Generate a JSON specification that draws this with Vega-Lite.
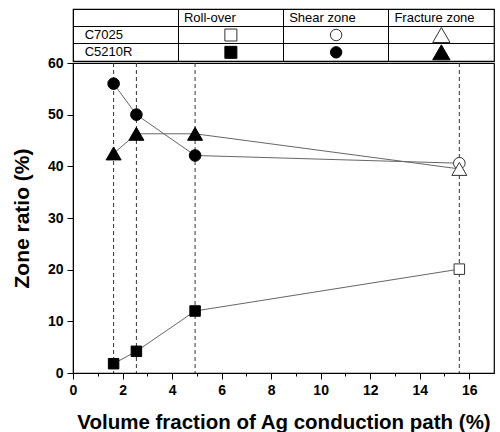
{
  "$schema": "https://vega.github.io/schema/vega-lite/v6.json",
  "padding": {"left": 10, "top": 8, "right": 5, "bottom": 0},
  "spacing": 2,
  "bounds": "flush",
  "config": {
    "font": "Liberation Sans",
    "view": {"stroke": "black", "strokeWidth": 1.2}
  },
  "datasets": {
    "pts": [
      {"x": 1.64, "zone": "Roll-over", "alloy": "C5210R", "v": 1.8},
      {"x": 2.56, "zone": "Roll-over", "alloy": "C5210R", "v": 4.2},
      {"x": 4.93, "zone": "Roll-over", "alloy": "C5210R", "v": 12.0},
      {"x": 15.6, "zone": "Roll-over", "alloy": "C7025", "v": 20.1},
      {"x": 1.64, "zone": "Shear zone", "alloy": "C5210R", "v": 56.0},
      {"x": 2.56, "zone": "Shear zone", "alloy": "C5210R", "v": 50.0},
      {"x": 4.93, "zone": "Shear zone", "alloy": "C5210R", "v": 42.1},
      {"x": 15.6, "zone": "Shear zone", "alloy": "C7025", "v": 40.6},
      {"x": 1.64, "zone": "Fracture zone", "alloy": "C5210R", "v": 42.5},
      {"x": 2.56, "zone": "Fracture zone", "alloy": "C5210R", "v": 46.3},
      {"x": 4.93, "zone": "Fracture zone", "alloy": "C5210R", "v": 46.3},
      {"x": 15.6, "zone": "Fracture zone", "alloy": "C7025", "v": 39.5}
    ],
    "vlines": [{"x": 1.64}, {"x": 2.56}, {"x": 4.93}, {"x": 15.6}],
    "tblHead": [
      {"row": "head", "col": "Roll-over", "label": "Roll-over"},
      {"row": "head", "col": "Shear zone", "label": "Shear zone"},
      {"row": "head", "col": "Fracture zone", "label": "Fracture zone"}
    ],
    "tblRows": [
      {"row": "C7025", "col": "name", "label": "C7025"},
      {"row": "C5210R", "col": "name", "label": "C5210R"}
    ],
    "tblSym": [
      {"row": "C7025", "col": "Roll-over", "alloy": "C7025", "zone": "Roll-over"},
      {"row": "C7025", "col": "Shear zone", "alloy": "C7025", "zone": "Shear zone"},
      {"row": "C7025", "col": "Fracture zone", "alloy": "C7025", "zone": "Fracture zone"},
      {"row": "C5210R", "col": "Roll-over", "alloy": "C5210R", "zone": "Roll-over"},
      {"row": "C5210R", "col": "Shear zone", "alloy": "C5210R", "zone": "Shear zone"},
      {"row": "C5210R", "col": "Fracture zone", "alloy": "C5210R", "zone": "Fracture zone"}
    ]
  },
  "vconcat": [
    {
      "width": 421,
      "height": 52,
      "encoding": {
        "x": {
          "field": "col", "type": "nominal",
          "scale": {"type": "band", "domain": ["name", "Roll-over", "Shear zone", "Fracture zone"], "paddingInner": 0, "paddingOuter": 0},
          "axis": {"title": null, "labels": false, "ticks": false, "domain": false, "grid": true, "bandPosition": 0, "gridColor": "black", "gridOpacity": 1, "gridWidth": 1, "minExtent": 0, "maxExtent": 0, "offset": 0}
        },
        "y": {
          "field": "row", "type": "nominal",
          "scale": {"type": "band", "domain": ["head", "C7025", "C5210R"], "paddingInner": 0, "paddingOuter": 0},
          "axis": {"title": null, "labels": false, "ticks": false, "domain": false, "grid": true, "bandPosition": 0, "gridColor": "black", "gridOpacity": 1, "gridWidth": 1, "minExtent": 0, "maxExtent": 0, "offset": 0}
        },
        "fill": {"field": "alloy", "type": "nominal", "scale": {"domain": ["C7025", "C5210R"], "range": ["white", "black"]}, "legend": null},
        "stroke": {"field": "alloy", "type": "nominal", "scale": {"domain": ["C7025", "C5210R"], "range": ["#333333", "black"]}, "legend": null}
      },
      "layer": [
        {
          "data": {"name": "tblHead"},
          "mark": {"type": "text", "align": "left", "baseline": "middle", "dx": -47, "fontSize": 13, "color": "black"},
          "encoding": {"text": {"field": "label"}, "fill": {"value": "black"}, "stroke": {"value": null}}
        },
        {
          "data": {"name": "tblRows"},
          "mark": {"type": "text", "align": "left", "baseline": "middle", "dx": -41, "fontSize": 13, "color": "black"},
          "encoding": {"text": {"field": "label"}, "fill": {"value": "black"}, "stroke": {"value": null}}
        },
        {
          "data": {"name": "tblSym"},
          "transform": [{"filter": "datum.zone === 'Roll-over'"}],
          "mark": {"type": "point", "shape": "square", "size": 144, "filled": true, "opacity": 1, "strokeWidth": 1}
        },
        {
          "data": {"name": "tblSym"},
          "transform": [{"filter": "datum.zone === 'Shear zone'"}],
          "mark": {"type": "point", "shape": "circle", "size": 130, "filled": true, "opacity": 1, "strokeWidth": 1}
        },
        {
          "data": {"name": "tblSym"},
          "transform": [{"filter": "datum.zone === 'Fracture zone'"}],
          "mark": {"type": "point", "shape": "triangle-up", "size": 300, "filled": true, "opacity": 1, "strokeWidth": 1}
        }
      ]
    },
    {
      "width": 421,
      "height": 310,
      "encoding": {
        "x": {
          "field": "x", "type": "quantitative",
          "scale": {"domain": [0, 17], "nice": false, "zero": false},
          "axis": {
            "values": [0, 1, 2, 3, 4, 5, 6, 7, 8, 9, 10, 11, 12, 13, 14, 15, 16],
            "labelExpr": "datum.value % 2 === 0 ? datum.label : ''",
            "tickSize": {"condition": {"test": "datum.value % 2 !== 0", "value": 3}, "value": 6},
            "title": "Volume fraction of Ag conduction path (%)",
            "titleFontSize": 20.5, "titleFontWeight": "bold", "titleColor": "black", "titlePadding": 15,
            "labelFontSize": 14, "labelFontWeight": "bold", "labelColor": "black", "labelPadding": 4, "labelFlush": false,
            "domainColor": "black", "tickColor": "black", "grid": false
          }
        }
      },
      "layer": [
        {
          "data": {"name": "vlines"},
          "mark": {"type": "rule", "strokeDash": [4, 3], "color": "#333333", "strokeWidth": 1}
        },
        {
          "data": {"name": "pts"},
          "mark": {"type": "line", "color": "#666666", "strokeWidth": 1},
          "encoding": {
            "y": {"field": "v", "type": "quantitative", "scale": {"domain": [0, 60], "nice": false},
              "axis": {
                "values": [0, 5, 10, 15, 20, 25, 30, 35, 40, 45, 50, 55, 60],
                "labelExpr": "datum.value % 10 === 0 ? datum.label : ''",
                "tickSize": {"condition": {"test": "datum.value % 10 !== 0", "value": 3}, "value": 6},
                "title": "Zone ratio (%)",
                "titleFontSize": 21, "titleFontWeight": "bold", "titleColor": "black", "titlePadding": 15,
                "labelFontSize": 14, "labelFontWeight": "bold", "labelColor": "black", "labelPadding": 4, "labelFlush": false,
                "domainColor": "black", "tickColor": "black", "grid": false
              }},
            "detail": {"field": "zone"}
          }
        },
        {
          "data": {"name": "pts"},
          "transform": [{"filter": "datum.zone === 'Roll-over'"}],
          "mark": {"type": "point", "shape": "square", "size": 110, "filled": true, "opacity": 1, "strokeWidth": 1},
          "encoding": {
            "y": {"field": "v", "type": "quantitative"},
            "fill": {"field": "alloy", "type": "nominal", "scale": {"domain": ["C7025", "C5210R"], "range": ["white", "black"]}, "legend": null},
            "stroke": {"field": "alloy", "type": "nominal", "scale": {"domain": ["C7025", "C5210R"], "range": ["#555555", "black"]}, "legend": null}
          }
        },
        {
          "data": {"name": "pts"},
          "transform": [{"filter": "datum.zone === 'Shear zone'"}],
          "mark": {"type": "point", "shape": "circle", "size": 135, "filled": true, "opacity": 1, "strokeWidth": 1},
          "encoding": {
            "y": {"field": "v", "type": "quantitative"},
            "fill": {"field": "alloy", "type": "nominal", "scale": {"domain": ["C7025", "C5210R"], "range": ["white", "black"]}, "legend": null},
            "stroke": {"field": "alloy", "type": "nominal", "scale": {"domain": ["C7025", "C5210R"], "range": ["#555555", "black"]}, "legend": null}
          }
        },
        {
          "data": {"name": "pts"},
          "transform": [{"filter": "datum.zone === 'Fracture zone'"}],
          "mark": {"type": "point", "shape": "triangle-up", "size": 225, "filled": true, "opacity": 1, "strokeWidth": 1},
          "encoding": {
            "y": {"field": "v", "type": "quantitative"},
            "fill": {"field": "alloy", "type": "nominal", "scale": {"domain": ["C7025", "C5210R"], "range": ["white", "black"]}, "legend": null},
            "stroke": {"field": "alloy", "type": "nominal", "scale": {"domain": ["C7025", "C5210R"], "range": ["#555555", "black"]}, "legend": null}
          }
        }
      ]
    }
  ]
}
